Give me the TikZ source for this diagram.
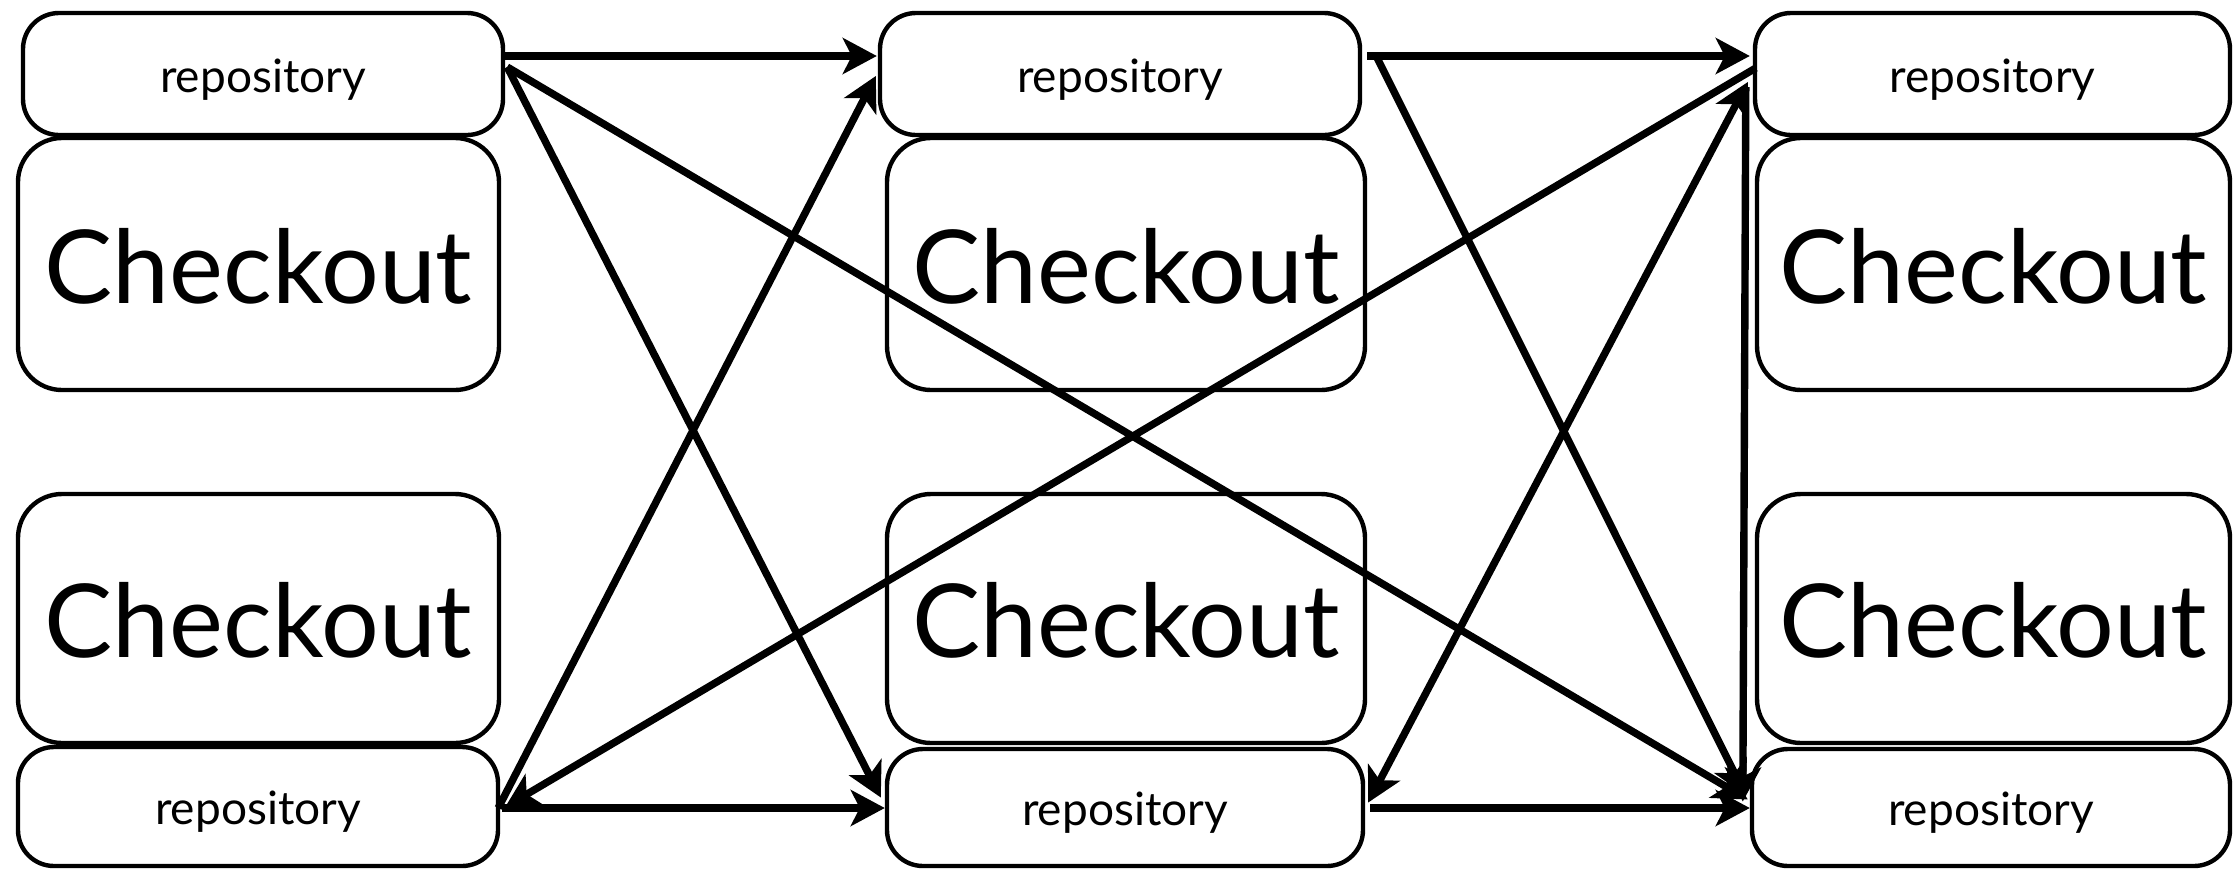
\documentclass[tikz,border=0pt]{standalone}
\usepackage{fontspec}
\setmainfont{Lato}
\usetikzlibrary{arrows.meta,calc}
\begin{document}
\begin{tikzpicture}[x=0.5pt,y=-0.5pt,
  >={Stealth[length=17pt,width=18pt,inset=4.5pt]},
  repo/.style={draw, line width=2.2pt, rounded corners=18pt, inner sep=0pt,
    font=\fontsize{23}{23}\selectfont, text height=18pt, text depth=0pt},
  co/.style={draw, line width=2.2pt, rounded corners=22pt, inner sep=0pt,
    font=\fontsize{51}{51}\selectfont, text height=39pt, text depth=0pt},
  link/.style={line width=3.7pt, ->},
  ]
\useasboundingbox (0,0) rectangle (2234,869);
% left column
\node[repo, minimum width=240pt, minimum height=61pt] (L1) at (263,74) {repository};
\node[co, minimum width=240.5pt, minimum height=126pt] (L2) at (258.5,264) {Checkout};
\node[co, minimum width=240.5pt, minimum height=124.5pt] (L3) at (258.5,618.5) {Checkout};
\node[repo, minimum width=240pt, minimum height=59.5pt] (L4) at (258,806.5) {repository};
% middle column
\node[repo, minimum width=240pt, minimum height=61pt] (M1) at (1120,74) {repository};
\node[co, minimum width=239pt, minimum height=126pt] (M2) at (1126,264) {Checkout};
\node[co, minimum width=239pt, minimum height=124.5pt] (M3) at (1126,618.5) {Checkout};
\node[repo, minimum width=238pt, minimum height=58.5pt] (M4) at (1125,807.5) {repository};
% right column
\node[repo, minimum width=237.5pt, minimum height=61pt] (R1) at (1992.5,74) {repository};
\node[co, minimum width=236.5pt, minimum height=126pt] (R2) at (1993.5,264) {Checkout};
\node[co, minimum width=236.5pt, minimum height=124.5pt] (R3) at (1993.5,618.5) {Checkout};
\node[repo, minimum width=239pt, minimum height=58.5pt] (R4) at (1991,807.5) {repository};
% connectors
\draw[link] ($(L1.east)+(0,-18)$) -- ($(M1.west)+(-1,-18)$);
\draw[link] ($(L1.east)+(2,-7)$) -- ($(M4.west)+(-4,-10)$);
\draw[link] ($(L1.east)+(2,-7)$) -- ($(R4.west)+(-2,-8)$);
\draw[link] ($(L4.east)+(-2,1.5)$) -- ($(M1.west)+(-2,2)$);
\draw[link] ($(L4.east)+(2,1.5)$) -- ($(M4.west)+(0,0.5)$);
\draw[link] ($(R1.west)+(3,-6)$) -- ($(L4.east)+(5,0.5)$);
\draw[link] ($(M1.east)+(5,-18)$) -- ($(R1.west)+(-3,-18)$);
\draw[link] ($(M1.east)+(13,-20)$) -- ($(R4.west)+(-4,-12)$);
\draw[link,<->] ($(M4.east)+(3,-5)$) -- ($(R1.west)+(-5,8)$);
\draw[link] ($(M4.east)+(5,0.5)$) -- ($(R4.west)+(0,0.5)$);
\draw[link] ($(R1.west)+(-7,13)$) -- ($(R4.west)+(-7,-6)$);
\end{tikzpicture}
\end{document}
